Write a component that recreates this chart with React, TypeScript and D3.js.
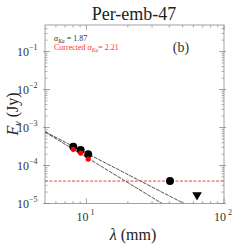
import React from "react";
import * as d3 from "d3";

const wavelengthsKa = [8.03, 9.08, 10.3];
const fluxKa = [3.13e-4, 2.56e-4, 1.97e-4];
const fluxKaCorrected = [2.67e-4, 2.13e-4, 1.48e-4];
const wavelengthC = [40.5];
const fluxC = [3.9e-5];
const upperLimitWavelength = [63.7];
const upperLimitFlux = [1.67e-5];
const freeFreeLevel = 3.9e-5;
const alphaKa = 1.87;
const alphaCorrected = 2.21;
const fitNorm = [10 ** -1.804, 10 ** -1.574]; // F at 1 mm
const xTicks = [10, 100];
const yTicks = [1e-5, 1e-4, 1e-3, 1e-2, 1e-1];

const W = 249, H = 249;
const left = 45, right = 224, top = 25, bottom = 203.5;

export default function App() {
  const x = d3.scaleLog().domain([5, 100]).range([left, right]);
  const y = d3.scaleLog().domain([1e-5, 0.5]).range([bottom, top]);
  const axisColor = "#8a8a8a";
  const serif = "'Liberation Serif', 'DejaVu Serif', serif";

  const xMinor: number[] = [];
  [1, 10].forEach((d) => { for (let i = 2; i <= 9; i++) { const v = d * i; if (v > 5 && v < 100 && v !== 10) xMinor.push(v); } });
  const yMinor: number[] = [];
  [1e-5, 1e-4, 1e-3, 1e-2, 1e-1].forEach((d) => { for (let i = 2; i <= 9; i++) { const v = d * i; if (v < 0.5) yMinor.push(v); } });

  const fitLine = (norm: number, alpha: number) => {
    const lamEnd = Math.pow(norm / 1e-5, 1 / alpha);
    const pts = d3.range(0, 51).map((i) => {
      const l = 5 * Math.pow(lamEnd / 5, i / 50);
      return [l, norm * Math.pow(l, -alpha)] as [number, number];
    });
    return d3.line<[number, number]>().x((d) => x(d[0])).y((d) => y(d[1]))(pts) || "";
  };

  const sup = (v: number) => Math.round(Math.log10(v));
  const tri = d3.symbol().type(d3.symbolTriangle).size(40)();

  return (
    <svg width={W} height={H} style={{ position: "absolute", left: 0, top: 0, background: "#fff" }}>
      <text x={134} y={20} textAnchor="middle" fontFamily={serif} fontSize={18} fill="#222">Per-emb-47</text>
      {/* fits */}
      <path d={fitLine(fitNorm[0], alphaKa)} fill="none" stroke="#222" strokeWidth={0.8} strokeDasharray="4,1" />
      <path d={fitLine(fitNorm[1], alphaCorrected)} fill="none" stroke="#222" strokeWidth={0.8} strokeDasharray="4,1" />
      <line x1={left} x2={right} y1={y(freeFreeLevel)} y2={y(freeFreeLevel)} stroke="#e8302a" strokeWidth={0.9} strokeDasharray="3,1.5" />
      {/* points */}
      {wavelengthsKa.map((l, i) => (
        <circle key={"k" + i} cx={x(l)} cy={y(fluxKa[i])} r={4} fill="#000" />
      ))}
      {wavelengthsKa.map((l, i) => (
        <circle key={"r" + i} cx={x(l)} cy={y(fluxKaCorrected[i])} r={2.6} fill="#ff0000" />
      ))}
      {wavelengthC.map((l, i) => (
        <circle key={"c" + i} cx={x(l)} cy={y(fluxC[i])} r={4} fill="#000" />
      ))}
      {upperLimitWavelength.map((l, i) => (
        <path key={"u" + i} d={tri} transform={`translate(${x(l)},${y(upperLimitFlux[i])}) rotate(180)`} fill="#000" />
      ))}
      {/* frame */}
      <rect x={left} y={top} width={right - left} height={bottom - top} fill="none" stroke={axisColor} strokeWidth={0.8} />
      {xTicks.map((t) => (
        <g key={"xt" + t}>
          <line x1={x(t)} x2={x(t)} y1={bottom} y2={bottom - 5} stroke={axisColor} strokeWidth={0.8} />
          <line x1={x(t)} x2={x(t)} y1={top} y2={top + 5} stroke={axisColor} strokeWidth={0.8} />
          <text x={x(t) - 4} y={bottom + 17} textAnchor="middle" fontFamily={serif} fontSize={12} fill="#333">10</text>
          <text x={x(t) + 4} y={bottom + 11} textAnchor="start" fontFamily={serif} fontSize={8} fill="#333">{sup(t)}</text>
        </g>
      ))}
      {xMinor.map((t) => (
        <g key={"xm" + t}>
          <line x1={x(t)} x2={x(t)} y1={bottom} y2={bottom - 2.5} stroke={axisColor} strokeWidth={0.7} />
          <line x1={x(t)} x2={x(t)} y1={top} y2={top + 2.5} stroke={axisColor} strokeWidth={0.7} />
        </g>
      ))}
      {yTicks.map((t) => (
        <g key={"yt" + t}>
          <line x1={left - 2} x2={left + 5} y1={y(t)} y2={y(t)} stroke={axisColor} strokeWidth={0.8} />
          <line x1={right + 2} x2={right - 5} y1={y(t)} y2={y(t)} stroke={axisColor} strokeWidth={0.8} />
          <text x={29} y={y(t) + 4} textAnchor="end" fontFamily={serif} fontSize={12} fill="#333">10</text>
          <text x={29} y={y(t) - 2} textAnchor="start" fontFamily={serif} fontSize={8} fill="#333">{"\u2212" + Math.abs(sup(t))}</text>
        </g>
      ))}
      {yMinor.map((t) => (
        <g key={"ym" + t}>
          <line x1={left} x2={left + 2.5} y1={y(t)} y2={y(t)} stroke={axisColor} strokeWidth={0.7} />
          <line x1={right} x2={right - 2.5} y1={y(t)} y2={y(t)} stroke={axisColor} strokeWidth={0.7} />
        </g>
      ))}
      {/* annotations */}
      <text x={54} y={41} fontFamily={serif} fontSize={8} fill="#333">
        <tspan fontStyle="italic">α</tspan><tspan fontStyle="italic" fontSize={5.5} dy={1.5}>Ka</tspan><tspan dy={-1.5}> = {alphaKa.toFixed(2)}</tspan>
      </text>
      <text x={54} y={50} fontFamily={serif} fontSize={8} fill="#ff3030">
        Corrected <tspan fontStyle="italic">α</tspan><tspan fontStyle="italic" fontSize={5.5} dy={1.5}>Ka</tspan><tspan dy={-1.5}>= {alphaCorrected.toFixed(2)}</tspan>
      </text>
      <text x={181} y={52} textAnchor="middle" fontFamily={serif} fontSize={14} fill="#333">(b)</text>
      {/* axis labels */}
      <text x={133} y={240} textAnchor="middle" fontFamily={serif} fontSize={16} fill="#222">
        <tspan fontStyle="italic">λ</tspan> (mm)
      </text>
      <text transform={`translate(18,114) rotate(-90)`} textAnchor="middle" fontFamily={serif} fontSize={16} fill="#222">
        <tspan fontStyle="italic">F</tspan><tspan fontStyle="italic" fontSize={10} dy={3}>ν</tspan><tspan dy={-3}> (Jy)</tspan>
      </text>
    </svg>
  );
}
